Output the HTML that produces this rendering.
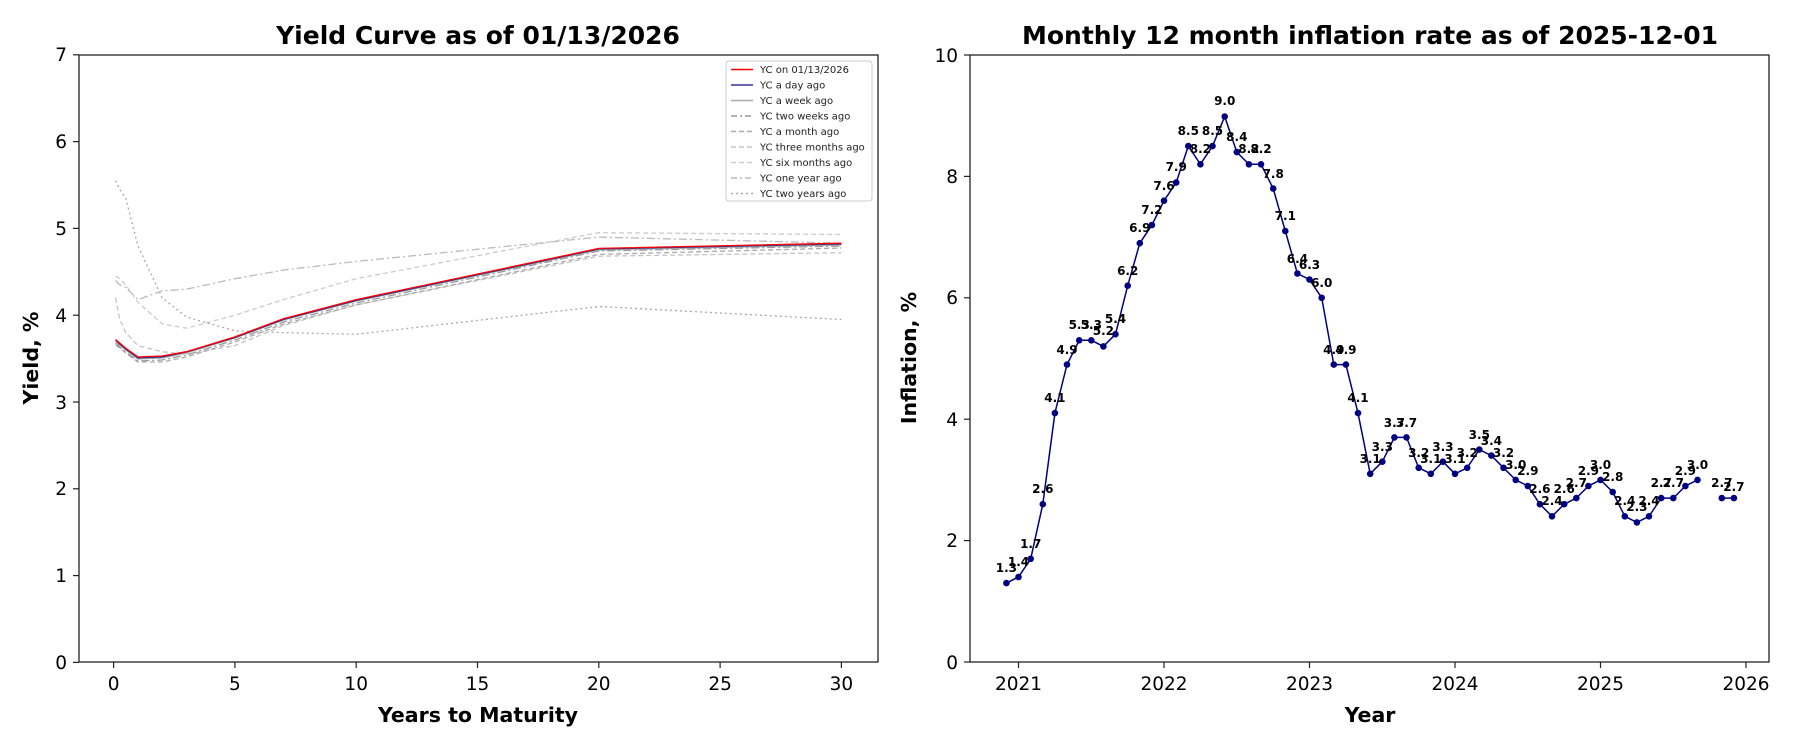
<!DOCTYPE html>
<html><head><meta charset="utf-8"><style>body{margin:0;background:#fff}svg{display:block}text{font-family:"DejaVu Sans","Liberation Sans",sans-serif}</style></head><body>
<svg width="1800" height="750" viewBox="0 0 1800 750" xmlns="http://www.w3.org/2000/svg">
<rect width="1800" height="750" fill="#fff"/>
<!-- LEFT -->
<text x="478" y="44" font-size="25" font-weight="bold" text-anchor="middle">Yield Curve as of 01/13/2026</text>
<g fill="none" stroke-width="1.3">
<polyline stroke="#aaa" stroke-dasharray="2,3" points="115.6,180.7 119.7,189.3 125.7,198 137.9,245.8 162.1,297.8 186.4,317 234.9,330.8 283.4,332.6 356.2,334.3 598.8,306.5 841.4,319.5"/>
<polyline stroke="#bbb" stroke-dasharray="8,3,2,3" points="115.6,280.5 119.7,284.8 125.7,287.4 137.9,299.6 162.1,290.9 186.4,289.2 234.9,278.7 283.4,270.1 356.2,261.4 598.8,237.1 841.4,243.2"/>
<polyline stroke="#ccc" stroke-dasharray="5,3" points="115.6,276.1 119.7,278.7 125.7,284.8 137.9,302.2 162.1,323.9 186.4,328.2 234.9,315.2 283.4,299.6 356.2,278.7 598.8,232.7 841.4,234.5"/>
<polyline stroke="#c4c4c4" stroke-dasharray="5,3" points="115.6,297.8 119.7,319.5 125.7,332.6 137.9,345.6 162.1,351.7 186.4,354.3 234.9,345.6 283.4,325.6 356.2,304.8 598.8,256.2 841.4,252.7"/>
<polyline stroke="#aaa" stroke-dasharray="5,3" points="115.6,345 119.7,348 125.7,353 137.9,362 162.1,362 186.4,357 234.9,342 283.4,324 356.2,305 598.8,254.4 841.4,248"/>
<polyline stroke="#999" stroke-dasharray="8,3,2,3" points="115.6,343 119.7,347 125.7,352 137.9,361 162.1,360 186.4,355 234.9,340 283.4,322 356.2,303 598.8,251 841.4,246"/>
<polyline stroke="#aaa" points="115.6,341 119.7,345 125.7,350 137.9,359 162.1,358 186.4,353 234.9,338 283.4,320 356.2,301 598.8,250 841.4,245"/>
<polyline stroke="#33338f" points="115.6,340 119.7,344 125.7,349 137.9,358 162.1,357 186.4,352 234.9,337.5 283.4,319.5 356.2,300.5 598.8,249 841.4,244"/>
<polyline stroke="#f00" points="115.6,339.5 119.7,343 125.7,348.2 137.9,356.9 162.1,356 186.4,351.7 234.9,336.9 283.4,318.7 356.2,299.6 598.8,248.4 841.4,243.2"/>
</g>
<rect x="79" y="55" width="799" height="607" fill="none" stroke="#222" stroke-width="1.3"/>
<g stroke="#222" stroke-width="1.2">
<line x1="113.6" y1="662" x2="113.6" y2="668"/><line x1="234.9" y1="662" x2="234.9" y2="668"/><line x1="356.2" y1="662" x2="356.2" y2="668"/><line x1="477.5" y1="662" x2="477.5" y2="668"/><line x1="598.8" y1="662" x2="598.8" y2="668"/><line x1="720.1" y1="662" x2="720.1" y2="668"/><line x1="841.4" y1="662" x2="841.4" y2="668"/>
<line x1="73" y1="662.4" x2="79" y2="662.4"/><line x1="73" y1="575.6" x2="79" y2="575.6"/><line x1="73" y1="488.8" x2="79" y2="488.8"/><line x1="73" y1="402" x2="79" y2="402"/><line x1="73" y1="315.2" x2="79" y2="315.2"/><line x1="73" y1="228.4" x2="79" y2="228.4"/><line x1="73" y1="141.6" x2="79" y2="141.6"/><line x1="73" y1="54.8" x2="79" y2="54.8"/>
</g>
<g font-size="18.5" text-anchor="middle">
<text x="113.6" y="690">0</text><text x="234.9" y="690">5</text><text x="356.2" y="690">10</text><text x="477.5" y="690">15</text><text x="598.8" y="690">20</text><text x="720.1" y="690">25</text><text x="841.4" y="690">30</text>
</g>
<g font-size="18.5" text-anchor="end">
<text x="67" y="669">0</text><text x="67" y="582">1</text><text x="67" y="495">2</text><text x="67" y="409">3</text><text x="67" y="322">4</text><text x="67" y="235">5</text><text x="67" y="148">6</text><text x="67" y="61">7</text>
</g>
<text x="478" y="722" font-size="20.5" font-weight="bold" text-anchor="middle">Years to Maturity</text>
<text transform="translate(38,358) rotate(-90)" font-size="20.5" font-weight="bold" text-anchor="middle">Yield, %</text>
<!-- legend -->
<rect x="726" y="61" width="146" height="140" rx="3" fill="#fff" stroke="#ccc"/>
<g font-size="10" fill="#222">
<text x="760" y="73">YC on 01/13/2026</text><text x="760" y="88.5">YC a day ago</text><text x="760" y="104">YC a week ago</text><text x="760" y="119.5">YC two weeks ago</text><text x="760" y="135">YC a month ago</text><text x="760" y="150.5">YC three months ago</text><text x="760" y="166">YC six months ago</text><text x="760" y="181.5">YC one year ago</text><text x="760" y="197">YC two years ago</text>
</g>
<g stroke-width="1.5">
<line x1="731" y1="69.5" x2="753" y2="69.5" stroke="#f00"/>
<line x1="731" y1="85" x2="753" y2="85" stroke="#33338f"/>
<line x1="731" y1="100.5" x2="753" y2="100.5" stroke="#aaa"/>
<line x1="731" y1="116" x2="753" y2="116" stroke="#999" stroke-dasharray="6,3,2,3"/>
<line x1="731" y1="131.5" x2="753" y2="131.5" stroke="#aaa" stroke-dasharray="5,3"/>
<line x1="731" y1="147" x2="753" y2="147" stroke="#c4c4c4" stroke-dasharray="5,3"/>
<line x1="731" y1="162.5" x2="753" y2="162.5" stroke="#ccc" stroke-dasharray="5,3"/>
<line x1="731" y1="178" x2="753" y2="178" stroke="#bbb" stroke-dasharray="6,3,2,3"/>
<line x1="731" y1="193.5" x2="753" y2="193.5" stroke="#aaa" stroke-dasharray="2,3"/>
</g>
<!-- RIGHT -->
<text x="1370" y="44" font-size="25" font-weight="bold" text-anchor="middle">Monthly 12 month inflation rate as of 2025-12-01</text>
<polyline fill="none" stroke="#000080" stroke-width="1.5" points="1006.4,583.1 1018.5,577 1030.7,558.8 1042.8,504.2 1054.9,413.1 1067,364.6 1079.2,340.3 1091.3,340.3 1103.4,346.4 1115.5,334.2 1127.7,285.7 1139.8,243.2 1151.9,225 1164,200.7 1176.2,182.5 1188.3,146.1 1200.4,164.3 1212.5,146.1 1224.7,116.5 1236.8,152.1 1248.9,164.3 1261,164.3 1273.2,188.5 1285.3,231 1297.4,273.5 1309.5,279.6 1321.7,297.8 1333.8,364.6 1345.9,364.6 1358,413.1 1370.2,473.8 1382.3,461.7 1394.4,437.4 1406.5,437.4 1418.7,467.8 1430.8,473.8 1442.9,461.7 1455,473.8 1467.2,467.8 1479.3,449.6 1491.4,455.6 1503.5,467.8 1515.7,479.9 1527.8,486 1539.9,504.2 1552,516.3 1564.2,504.2 1576.3,498.1 1588.4,486 1600.5,479.9 1612.7,492 1624.8,516.3 1636.9,522.4 1649,516.3 1661.2,498.1 1673.3,498.1 1685.4,486 1697.5,479.9"/>
<line x1="1721.8" y1="498.1" x2="1733.9" y2="498.1" stroke="#000080" stroke-width="1.5"/>
<g fill="#000080">
<circle cx="1006.4" cy="583.1" r="3.3"/><circle cx="1018.5" cy="577" r="3.3"/><circle cx="1030.7" cy="558.8" r="3.3"/><circle cx="1042.8" cy="504.2" r="3.3"/><circle cx="1054.9" cy="413.1" r="3.3"/><circle cx="1067" cy="364.6" r="3.3"/><circle cx="1079.2" cy="340.3" r="3.3"/><circle cx="1091.3" cy="340.3" r="3.3"/><circle cx="1103.4" cy="346.4" r="3.3"/><circle cx="1115.5" cy="334.2" r="3.3"/><circle cx="1127.7" cy="285.7" r="3.3"/><circle cx="1139.8" cy="243.2" r="3.3"/><circle cx="1151.9" cy="225" r="3.3"/><circle cx="1164" cy="200.7" r="3.3"/><circle cx="1176.2" cy="182.5" r="3.3"/><circle cx="1188.3" cy="146.1" r="3.3"/><circle cx="1200.4" cy="164.3" r="3.3"/><circle cx="1212.5" cy="146.1" r="3.3"/><circle cx="1224.7" cy="116.5" r="3.3"/><circle cx="1236.8" cy="152.1" r="3.3"/><circle cx="1248.9" cy="164.3" r="3.3"/><circle cx="1261" cy="164.3" r="3.3"/><circle cx="1273.2" cy="188.5" r="3.3"/><circle cx="1285.3" cy="231" r="3.3"/><circle cx="1297.4" cy="273.5" r="3.3"/><circle cx="1309.5" cy="279.6" r="3.3"/><circle cx="1321.7" cy="297.8" r="3.3"/><circle cx="1333.8" cy="364.6" r="3.3"/><circle cx="1345.9" cy="364.6" r="3.3"/><circle cx="1358" cy="413.1" r="3.3"/><circle cx="1370.2" cy="473.8" r="3.3"/><circle cx="1382.3" cy="461.7" r="3.3"/><circle cx="1394.4" cy="437.4" r="3.3"/><circle cx="1406.5" cy="437.4" r="3.3"/><circle cx="1418.7" cy="467.8" r="3.3"/><circle cx="1430.8" cy="473.8" r="3.3"/><circle cx="1442.9" cy="461.7" r="3.3"/><circle cx="1455" cy="473.8" r="3.3"/><circle cx="1467.2" cy="467.8" r="3.3"/><circle cx="1479.3" cy="449.6" r="3.3"/><circle cx="1491.4" cy="455.6" r="3.3"/><circle cx="1503.5" cy="467.8" r="3.3"/><circle cx="1515.7" cy="479.9" r="3.3"/><circle cx="1527.8" cy="486" r="3.3"/><circle cx="1539.9" cy="504.2" r="3.3"/><circle cx="1552" cy="516.3" r="3.3"/><circle cx="1564.2" cy="504.2" r="3.3"/><circle cx="1576.3" cy="498.1" r="3.3"/><circle cx="1588.4" cy="486" r="3.3"/><circle cx="1600.5" cy="479.9" r="3.3"/><circle cx="1612.7" cy="492" r="3.3"/><circle cx="1624.8" cy="516.3" r="3.3"/><circle cx="1636.9" cy="522.4" r="3.3"/><circle cx="1649" cy="516.3" r="3.3"/><circle cx="1661.2" cy="498.1" r="3.3"/><circle cx="1673.3" cy="498.1" r="3.3"/><circle cx="1685.4" cy="486" r="3.3"/><circle cx="1697.5" cy="479.9" r="3.3"/><circle cx="1721.8" cy="498.1" r="3.3"/><circle cx="1733.9" cy="498.1" r="3.3"/>
</g>
<g font-size="12" font-weight="bold" text-anchor="middle">
<text x="1006.4" y="572">1.3</text><text x="1018.5" y="566">1.4</text><text x="1030.7" y="548">1.7</text><text x="1042.8" y="493">2.6</text><text x="1054.9" y="402">4.1</text><text x="1067" y="354">4.9</text><text x="1079.2" y="329">5.3</text><text x="1091.3" y="329">5.3</text><text x="1103.4" y="335">5.2</text><text x="1115.5" y="323">5.4</text><text x="1127.7" y="275">6.2</text><text x="1139.8" y="232">6.9</text><text x="1151.9" y="214">7.2</text><text x="1164" y="190">7.6</text><text x="1176.2" y="171">7.9</text><text x="1188.3" y="135">8.5</text><text x="1200.4" y="153">8.2</text><text x="1212.5" y="135">8.5</text><text x="1224.7" y="105">9.0</text><text x="1236.8" y="141">8.4</text><text x="1248.9" y="153">8.2</text><text x="1261" y="153">8.2</text><text x="1273.2" y="178">7.8</text><text x="1285.3" y="220">7.1</text><text x="1297.4" y="263">6.4</text><text x="1309.5" y="269">6.3</text><text x="1321.7" y="287">6.0</text><text x="1333.8" y="354">4.9</text><text x="1345.9" y="354">4.9</text><text x="1358" y="402">4.1</text><text x="1370.2" y="463">3.1</text><text x="1382.3" y="451">3.3</text><text x="1394.4" y="427">3.7</text><text x="1406.5" y="427">3.7</text><text x="1418.7" y="457">3.2</text><text x="1430.8" y="463">3.1</text><text x="1442.9" y="451">3.3</text><text x="1455" y="463">3.1</text><text x="1467.2" y="457">3.2</text><text x="1479.3" y="439">3.5</text><text x="1491.4" y="445">3.4</text><text x="1503.5" y="457">3.2</text><text x="1515.7" y="469">3.0</text><text x="1527.8" y="475">2.9</text><text x="1539.9" y="493">2.6</text><text x="1552" y="505">2.4</text><text x="1564.2" y="493">2.6</text><text x="1576.3" y="487">2.7</text><text x="1588.4" y="475">2.9</text><text x="1600.5" y="469">3.0</text><text x="1612.7" y="481">2.8</text><text x="1624.8" y="505">2.4</text><text x="1636.9" y="511">2.3</text><text x="1649" y="505">2.4</text><text x="1661.2" y="487">2.7</text><text x="1673.3" y="487">2.7</text><text x="1685.4" y="475">2.9</text><text x="1697.5" y="469">3.0</text><text x="1721.8" y="487">2.7</text><text x="1733.9" y="491">2.7</text>
</g>
<rect x="970" y="55" width="799" height="607" fill="none" stroke="#222" stroke-width="1.3"/>
<g stroke="#222" stroke-width="1.2">
<line x1="1018.5" y1="662" x2="1018.5" y2="668"/><line x1="1164" y1="662" x2="1164" y2="668"/><line x1="1309.5" y1="662" x2="1309.5" y2="668"/><line x1="1455" y1="662" x2="1455" y2="668"/><line x1="1600.5" y1="662" x2="1600.5" y2="668"/><line x1="1746" y1="662" x2="1746" y2="668"/>
<line x1="964" y1="662" x2="970" y2="662"/><line x1="964" y1="540.6" x2="970" y2="540.6"/><line x1="964" y1="419.2" x2="970" y2="419.2"/><line x1="964" y1="297.8" x2="970" y2="297.8"/><line x1="964" y1="176.4" x2="970" y2="176.4"/><line x1="964" y1="55" x2="970" y2="55"/>
</g>
<g font-size="18.5" text-anchor="middle">
<text x="1018.5" y="690">2021</text><text x="1164" y="690">2022</text><text x="1309.5" y="690">2023</text><text x="1455" y="690">2024</text><text x="1600.5" y="690">2025</text><text x="1746" y="690">2026</text>
</g>
<g font-size="18.5" text-anchor="end">
<text x="958" y="669">0</text><text x="958" y="547">2</text><text x="958" y="426">4</text><text x="958" y="304">6</text><text x="958" y="183">8</text><text x="958" y="62">10</text>
</g>
<text x="1370" y="722" font-size="20.5" font-weight="bold" text-anchor="middle">Year</text>
<text transform="translate(916,358) rotate(-90)" font-size="20.5" font-weight="bold" text-anchor="middle">Inflation, %</text>
</svg>
</body></html>
